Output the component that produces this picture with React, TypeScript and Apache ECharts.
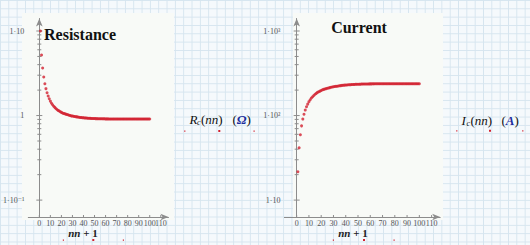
import { useEffect, useRef } from 'react';
import * as echarts from 'echarts';

// x = nn + 1
const nPlus1 = [
  1, 2, 3, 4, 5, 6, 7, 8, 9, 10, 11, 12, 13, 14, 15, 16, 17, 18, 19, 20,
  21, 22, 23, 24, 25, 26, 27, 28, 29, 30, 31, 32, 33, 34, 35, 36, 37, 38, 39, 40,
  41, 42, 43, 44, 45, 46, 47, 48, 49, 50, 51, 52, 53, 54, 55, 56, 57, 58, 59, 60,
  61, 62, 63, 64, 65, 66, 67, 68, 69, 70, 71, 72, 73, 74, 75, 76, 77, 78, 79, 80,
  81, 82, 83, 84, 85, 86, 87, 88, 89, 90, 91, 92, 93, 94, 95, 96, 97, 98, 99, 100,
];

// Resistance R_c(nn) in ohm
const resistance = [
  10, 5.2, 3.65, 2.86, 2.38, 2.08, 1.86, 1.7, 1.58, 1.48,
  1.4, 1.34, 1.29, 1.25, 1.21, 1.18, 1.15, 1.13, 1.11, 1.09,
  1.07, 1.06, 1.05, 1.04, 1.03, 1.02, 1.01, 1.0, 0.99, 0.985,
  0.98, 0.975, 0.97, 0.965, 0.96, 0.955, 0.95, 0.947, 0.944, 0.941,
  0.938, 0.935, 0.933, 0.931, 0.929, 0.927, 0.925, 0.923, 0.922, 0.921,
  0.92, 0.919, 0.918, 0.917, 0.916, 0.915, 0.915, 0.914, 0.914, 0.913,
  0.913, 0.913, 0.912, 0.912, 0.912, 0.912, 0.911, 0.911, 0.911, 0.911,
  0.911, 0.911, 0.91, 0.91, 0.91, 0.91, 0.91, 0.91, 0.91, 0.91,
  0.91, 0.91, 0.91, 0.91, 0.91, 0.91, 0.91, 0.91, 0.91, 0.91,
  0.91, 0.91, 0.91, 0.91, 0.91, 0.91, 0.91, 0.91, 0.91, 0.91,
];

// Current I_c(nn) in ampere
const current = [
  21.6, 41.5, 59.2, 75.5, 90.8, 103.8, 116, 127, 136.5, 146,
  154, 161, 167, 173, 178.5, 183, 188, 191, 194.5, 198,
  201.5, 204, 206, 208, 210, 212, 214, 216, 218, 219.5,
  220.5, 221.5, 222.5, 224, 225, 226, 227.5, 228, 229, 229.5,
  230, 231, 231.5, 232, 232.5, 233, 233.5, 234, 234.3, 234.6,
  234.9, 235.2, 235.5, 235.8, 236, 236.2, 236.4, 236.6, 236.8, 237,
  237, 237.1, 237.2, 237.3, 237.4, 237.5, 237.5, 237.6, 237.6, 237.7,
  237.7, 237.7, 237.8, 237.8, 237.8, 237.8, 237.9, 237.9, 237.9, 237.9,
  238, 238, 238, 238, 238, 238, 238, 238, 238, 238,
  238, 238, 238, 238, 238, 238, 238, 238, 238, 238,
];

const xTickValues = [0, 10, 20, 30, 40, 50, 60, 70, 80, 90, 100, 110];
const leftMajor = [0.1, 1, 10];
const leftMinor = [0.2, 0.3, 0.4, 0.5, 0.6, 0.7, 0.8, 0.9, 2, 3, 4, 5, 6, 7, 8, 9];
const rightMajor = [10, 100, 1000];
const rightMinor = [20, 30, 40, 50, 60, 70, 80, 90, 200, 300, 400, 500, 600, 700, 800, 900];
const leftLabels: Record<string, string> = { '-1': '1·10⁻¹', '0': '1', '1': '1·10' };
const rightLabels: Record<string, string> = { '1': '1·10', '2': '1·10²', '3': '1·10³' };

const FONT = '"Liberation Serif", "DejaVu Serif", serif';
const RED = '#d2202f';
const AX = '#8c8c8c';
const LBL = '#555';
const BLUE = '#1b2c9c';

const X_MIN = -10;
const X_MAX = 117;
const L_YMIN = 0.0631;
const L_YMAX = 14.06;
const R_YMIN = 6.31;
const R_YMAX = 1406;

function decadeFormatter(map: Record<string, string>) {
  return (v: number) => {
    const l = Math.log10(v);
    const r = Math.round(l);
    if (Math.abs(l - r) > 1e-6) return '';
    return map[String(r)] ?? '';
  };
}

function xAxisCfg(gi: number) {
  return {
    gridIndex: gi,
    type: 'value',
    min: X_MIN,
    max: X_MAX,
    interval: 10,
    axisLine: {
      show: true,
      onZero: false,
      symbol: ['none', 'arrow'],
      symbolSize: [5, 8],
      lineStyle: { color: AX, width: 1 },
    },
    axisTick: { show: false },
    splitLine: { show: false },
    axisLabel: {
      fontFamily: FONT,
      fontSize: 8,
      lineHeight: 8,
      color: LBL,
      margin: 2,
      formatter: (v: number) => (v >= 0 && v <= 110 && v % 10 === 0 ? String(v) : ''),
    },
  };
}

function yAxisCfg(gi: number, min: number, max: number, map: Record<string, string>) {
  return {
    gridIndex: gi,
    type: 'log',
    logBase: 10,
    min,
    max,
    axisLine: {
      show: true,
      onZero: true,
      symbol: ['none', 'arrow'],
      symbolSize: [5, 8],
      lineStyle: { color: AX, width: 1 },
    },
    axisTick: { show: false },
    splitLine: { show: false },
    minorTick: { show: false },
    axisLabel: {
      fontFamily: FONT,
      fontSize: 8,
      color: LBL,
      margin: 4,
      formatter: decadeFormatter(map),
    },
  };
}

function yTickSeries(gi: number, major: number[], minor: number[]) {
  const data = [...major.map((v) => [0, v, 1]), ...minor.map((v) => [0, v, 0])];
  return {
    type: 'custom',
    xAxisIndex: gi,
    yAxisIndex: gi,
    silent: true,
    z: 3,
    data,
    renderItem: (_p: any, api: any) => {
      const pt = api.coord([0, api.value(1)]);
      const big = api.value(2) === 1;
      const l = big ? 3 : 2;
      return {
        type: 'line',
        shape: { x1: pt[0] - l, y1: pt[1], x2: pt[0] + l, y2: pt[1] },
        style: { stroke: AX, lineWidth: 1 },
      };
    },
  };
}

function xTickSeries(gi: number, yMin: number) {
  return {
    type: 'custom',
    xAxisIndex: gi,
    yAxisIndex: gi,
    silent: true,
    z: 3,
    data: xTickValues.map((v) => [v, yMin]),
    renderItem: (_p: any, api: any) => {
      const pt = api.coord([api.value(0), api.value(1)]);
      return {
        type: 'line',
        shape: { x1: pt[0], y1: pt[1] - 2, x2: pt[0], y2: pt[1] + 1 },
        style: { stroke: AX, lineWidth: 1 },
      };
    },
  };
}

function scatterSeries(gi: number, vals: number[]) {
  return {
    type: 'scatter',
    xAxisIndex: gi,
    yAxisIndex: gi,
    symbol: 'circle',
    symbolSize: 3,
    itemStyle: { color: RED },
    z: 4,
    data: nPlus1.map((x, i) => [x, vals[i]]),
  };
}

const italic = { fontFamily: FONT, fontStyle: 'italic', fontSize: 13, fill: '#111' };
const upright = { fontFamily: FONT, fontSize: 13, fill: '#111' };

function funcLabel(x: number, y: number, letter: string, unit: string) {
  return [
    { type: 'text', x, y, style: { ...italic, text: letter, verticalAlign: 'middle' } },
    {
      type: 'text',
      x: x + (letter === 'R' ? 7.5 : 5),
      y: y + 3.5,
      style: { ...italic, fontSize: 8, text: 'c', verticalAlign: 'middle' },
    },
    {
      type: 'text',
      x: x + (letter === 'R' ? 11.5 : 9),
      y,
      style: {
        text: '{p|(}{i|nn}{p|)}',
        verticalAlign: 'middle',
        rich: { p: upright, i: italic },
      },
    },
    {
      type: 'text',
      x: x + (letter === 'R' ? 43 : 40),
      y,
      style: {
        text: '{p|(}{u|' + unit + '}{p|)}',
        verticalAlign: 'middle',
        rich: {
          p: upright,
          u: { fontFamily: FONT, fontStyle: 'italic', fontWeight: 'bold', fontSize: 13, fill: BLUE },
        },
      },
    },
  ];
}

function dots(xs: number[], y: number) {
  return xs.map((x, i) => ({
    type: 'rect',
    shape: { x: x - (i === 1 ? 1 : 0.5), y: y - (i === 1 ? 1 : 0.5), width: i === 1 ? 2 : 1.2, height: i === 1 ? 2 : 1.2 },
    style: { fill: RED },
  }));
}

function xName(cx: number, cy: number) {
  return {
    type: 'text',
    x: cx,
    y: cy,
    style: {
      text: '{i|nn}{p| + 1}',
      align: 'center',
      verticalAlign: 'middle',
      rich: {
        i: { fontFamily: FONT, fontStyle: 'italic', fontWeight: 'bold', fontSize: 11, lineHeight: 11, fill: '#222' },
        p: { fontFamily: FONT, fontWeight: 'bold', fontSize: 11, lineHeight: 11, fill: '#222' },
      },
    },
  };
}

export default function App() {
  const ref = useRef<HTMLDivElement>(null);
  useEffect(() => {
    document.body.style.margin = '0';
    if (!ref.current) return;
    const chart = echarts.init(ref.current, null, { renderer: 'svg' });
    chart.setOption({
      animation: false,
      backgroundColor: 'transparent',
      grid: [
        { left: 14.1, top: 18.5, width: 154.4, height: 198.5 },
        { left: 284.4, top: 18.5, width: 155.8, height: 198.5 },
      ],
      xAxis: [xAxisCfg(0), xAxisCfg(1)],
      yAxis: [
        yAxisCfg(0, L_YMIN, L_YMAX, leftLabels),
        yAxisCfg(1, R_YMIN, R_YMAX, rightLabels),
      ],
      series: [
        yTickSeries(0, leftMajor, leftMinor),
        yTickSeries(1, rightMajor, rightMinor),
        xTickSeries(0, L_YMIN),
        xTickSeries(1, R_YMIN),
        scatterSeries(0, resistance),
        scatterSeries(1, current),
      ],
      graphic: [
        {
          type: 'text',
          x: 80,
          y: 34,
          style: { text: 'Resistance', fontFamily: FONT, fontWeight: 'bold', fontSize: 16, fill: '#111', align: 'center', verticalAlign: 'middle' },
        },
        {
          type: 'text',
          x: 359,
          y: 27.5,
          style: { text: 'Current', fontFamily: FONT, fontWeight: 'bold', fontSize: 16, fill: '#111', align: 'center', verticalAlign: 'middle' },
        },
        ...funcLabel(189.5, 119, 'R', 'Ω'),
        ...funcLabel(461.5, 120, 'I', 'A'),
        ...dots([184.7, 219.3, 254], 131),
        ...dots([456.7, 490, 522.7], 130.7),
        xName(83, 232.5),
        xName(353, 232.5),
        ...dots([63.3, 93.3, 123.3], 240),
        ...dots([333.3, 364, 394], 240),
      ],
    });
    return () => chart.dispose();
  }, []);

  const panel = (left: number, width: number) => ({
    position: 'absolute' as const,
    left,
    top: 13,
    width,
    height: 207,
    background: '#f8faf7',
  });

  return (
    <div
      style={{
        position: 'relative',
        width: 530,
        height: 245,
        overflow: 'hidden',
        backgroundColor: '#f5f9fc',
        backgroundImage:
          'linear-gradient(to right, #d6e5ef 1px, transparent 1px), linear-gradient(to bottom, #d6e5ef 1px, transparent 1px)',
        backgroundSize: '8.333px 8.333px',
      }}
    >
      <div style={panel(22, 152)} />
      <div style={panel(293, 150)} />
      <div ref={ref} style={{ position: 'absolute', left: 0, top: 0, width: 530, height: 245 }} />
    </div>
  );
}
